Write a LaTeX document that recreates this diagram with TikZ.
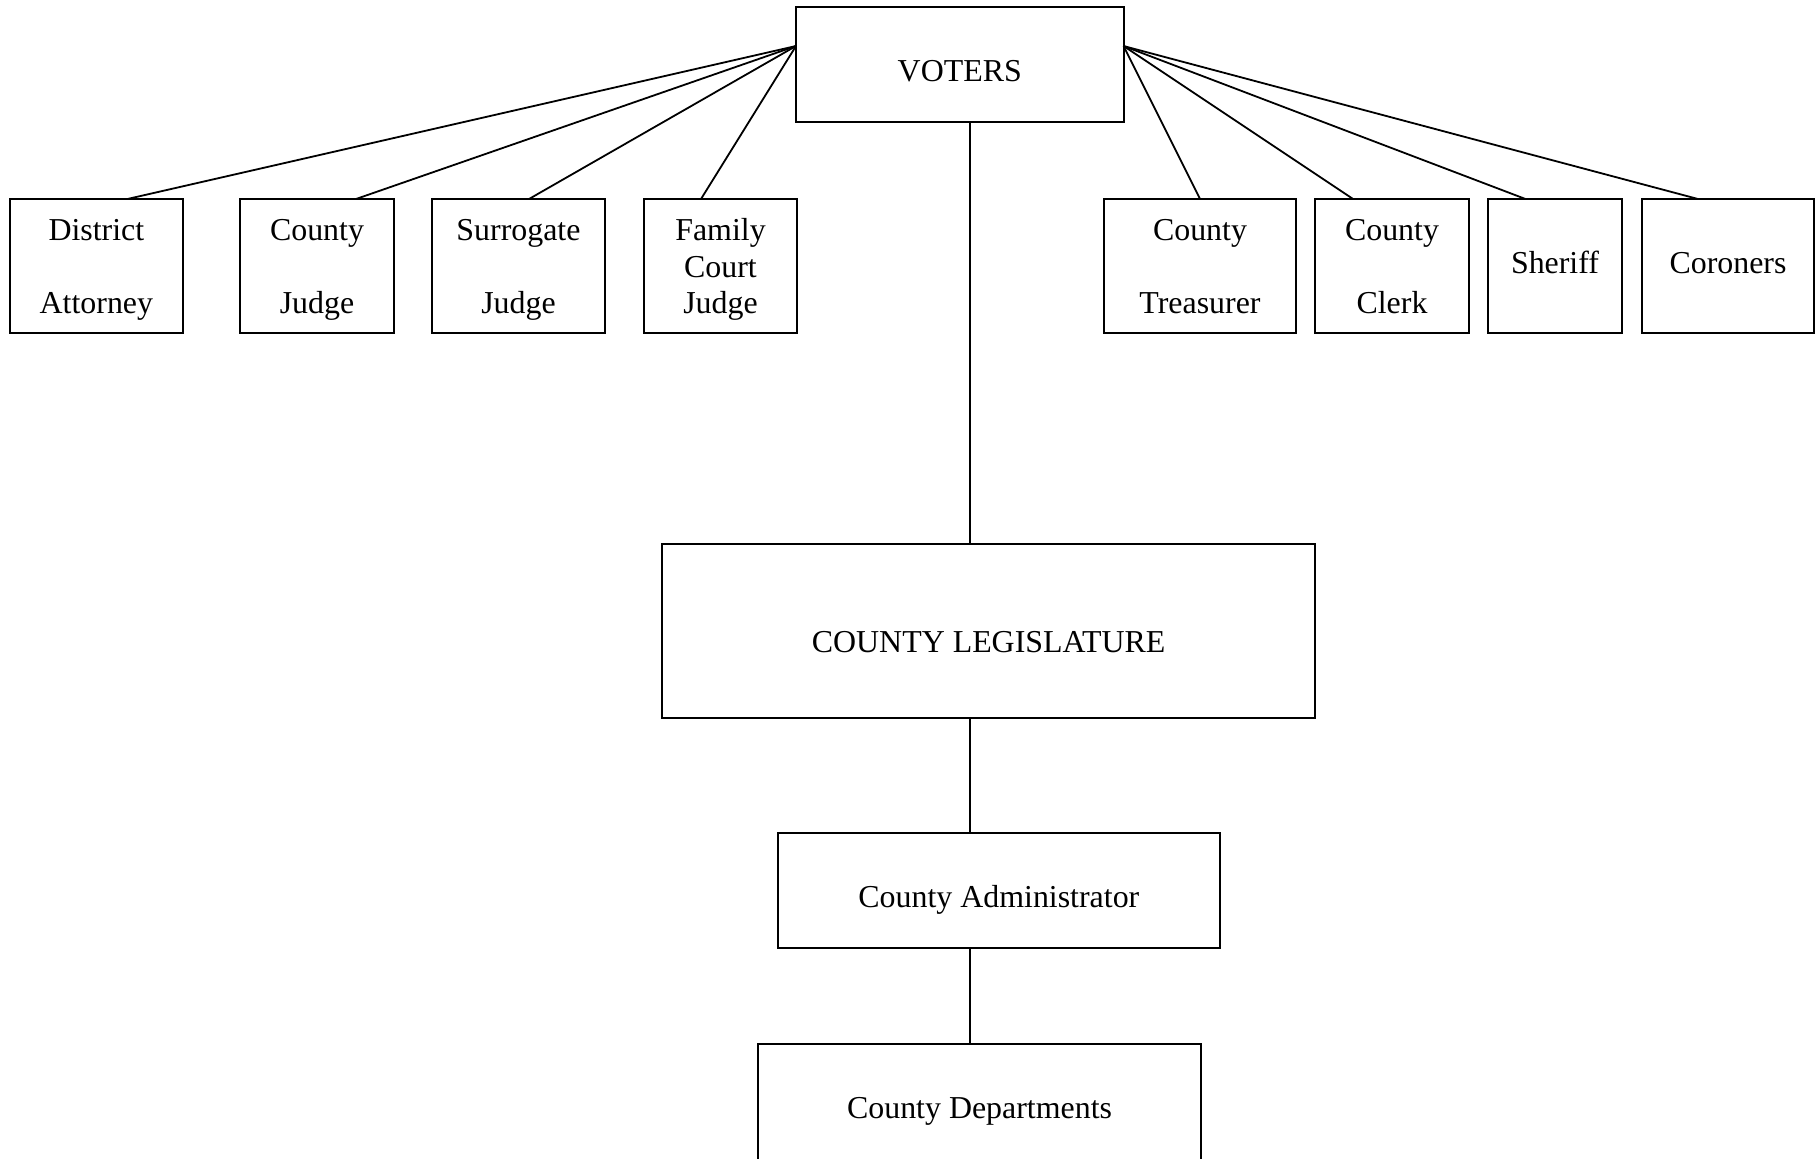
\documentclass[tikz,border=0pt]{standalone}
\usepackage{fontspec}
\setmainfont{Liberation Serif}
\begin{document}
\begin{tikzpicture}[x=0.5pt,y=-0.5pt,
  every node/.style={font=\fontsize{15.95}{18.25}\selectfont},
  box/.style={draw, line width=1pt, inner sep=0pt, outer sep=0pt, align=center},
  topbox/.style={box, minimum height=67pt, text depth=0pt},
  link/.style={line width=0.9pt}]
\useasboundingbox (0,0) rectangle (1815,1158);
% top
\node[box, minimum width=163.75pt, minimum height=57.5pt, text height=16.5pt, text depth=0pt] (voters) at (959.75,64.5) {VOTERS};
\node[topbox, minimum width=86.6pt] (da) at (96.4,266) {District\\[18.25pt]Attorney};
\node[topbox, minimum width=77pt] (cj) at (317,266) {County\\[18.25pt]Judge};
\node[topbox, minimum width=86.5pt] (sj) at (518.5,266) {Surrogate\\[18.25pt]Judge};
\node[topbox, minimum width=76.5pt] (fcj) at (720.5,266) {Family\\Court\\Judge};
\node[topbox, minimum width=96pt] (tr) at (1200,266) {County\\[18.25pt]Treasurer};
\node[topbox, minimum width=77pt] (cl) at (1392,266) {County\\[18.25pt]Clerk};
\node[topbox, minimum width=67pt, text height=7.5pt] (sh) at (1555,266) {Sheriff};
\node[topbox, minimum width=86pt, text height=7.5pt] (co) at (1728,266) {Coroners};
% lower
\node[box, minimum width=326.35pt, minimum height=86.7pt, text height=21.5pt, text depth=0pt] (leg) at (988.65,631) {COUNTY LEGISLATURE};
\node[box, minimum width=221.15pt, minimum height=57.5pt, text height=17pt, text depth=0pt] (adm) at (998.85,890.2) {County Administrator};
\node[box, minimum width=221.15pt, minimum height=61.15pt, text height=13.5pt, text depth=0pt] (dep) at (979.55,1104.85) {County Departments};
% connector anchors
\coordinate (vl) at (796,46);
\coordinate (vr) at (1123.5,46);
\coordinate (spine) at (970,0);
\draw[link] (vl) -- ([shift={(31,0)}]da.north);
\draw[link] (vl) -- ([shift={(39,0)}]cj.north);
\draw[link] (vl) -- ([shift={(10.5,0)}]sj.north);
\draw[link] (vl) -- ([shift={(-19.5,0)}]fcj.north);
\draw[link] (vr) -- (tr.north);
\draw[link] (vr) -- ([shift={(-39,0)}]cl.north);
\draw[link] (vr) -- ([shift={(-29.5,0)}]sh.north);
\draw[link] (vr) -- ([shift={(-30,0)}]co.north);
\draw[link] (voters.south -| spine) -- (leg.north -| spine);
\draw[link] (leg.south -| spine) -- (adm.north -| spine);
\draw[link] (adm.south -| spine) -- (dep.north -| spine);
\end{tikzpicture}
\end{document}
